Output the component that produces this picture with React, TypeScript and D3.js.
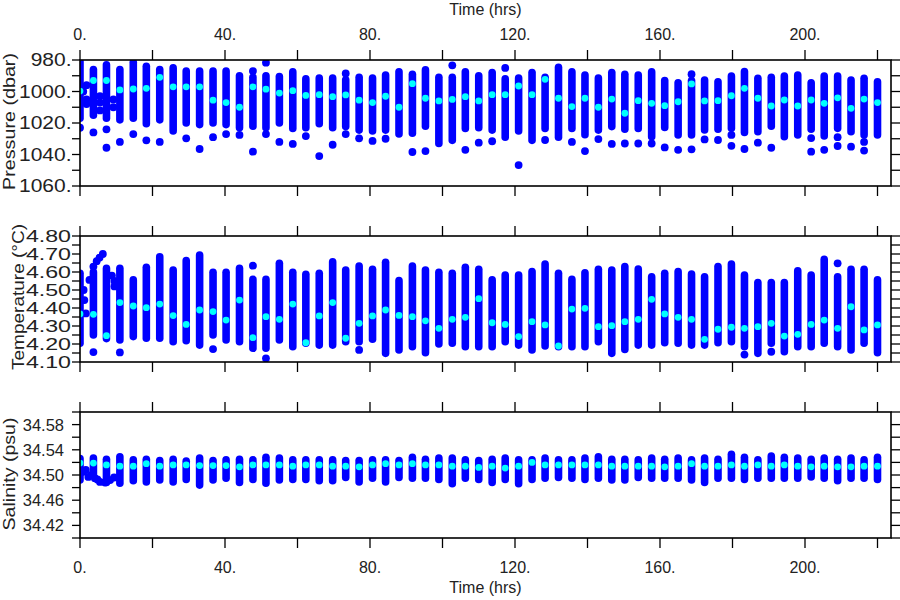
import React from "react";
import * as d3 from "d3";

// ---------- DATA ----------
const timeHrs = [0, 3.7, 7.3, 11.0, 14.7, 18.3, 22.0, 25.7, 29.3, 33.0, 36.7, 40.3, 44.0, 47.7, 51.3, 55.0, 58.7, 62.3, 66.0, 69.7, 73.3, 77.0, 80.7, 84.3, 88.0, 91.7, 95.3, 99.0, 102.7, 106.3, 110.0, 113.7, 117.3, 121.0, 124.7, 128.3, 132.0, 135.7, 139.3, 143.0, 146.7, 150.3, 154.0, 157.7, 161.3, 165.0, 168.7, 172.3, 176.0, 179.7, 183.3, 187.0, 190.7, 194.3, 198.0, 201.7, 205.3, 209.0, 212.7, 216.3, 220.0];

// Pressure (dbar): shallowest, deepest of the continuous profile, and highlighted (cyan) value
const presTop = [981, 986, 983, 986, 981.5, 984, 986, 985, 987, 987, 987, 987, 990, 991, 990, 990.5, 987.5, 992, 991.5, 991.5, 992.5, 991, 991.5, 989.5, 987.5, 989, 986.3, 991, 991, 987.5, 990, 988, 992, 991.5, 988, 991, 984.7, 987.5, 989.5, 991.5, 988, 989, 989.5, 987.5, 993, 994.4, 993, 992.7, 993.8, 990.2, 987.4, 991.6, 991, 990.2, 989.5, 994.4, 990.2, 990.2, 992.7, 991.6, 993.8];
const presBottom = [1017, 1015, 1017, 1018, 1017, 1020.5, 1018, 1025, 1020, 1021, 1020, 1021, 1023, 1022, 1023, 1020, 1023.5, 1023, 1020.5, 1023, 1022.3, 1024.5, 1025, 1024.5, 1027, 1026.5, 1022, 1033, 1031, 1023.5, 1023, 1024.5, 1029, 1025, 1031, 1023.5, 1029, 1023.5, 1027.5, 1024.5, 1022.3, 1024, 1023.5, 1028.7, 1022.8, 1027.6, 1027.6, 1024.4, 1024, 1023.4, 1026, 1025.5, 1022, 1028.7, 1027.6, 1024, 1028.3, 1023.4, 1025.5, 1027.6, 1027.6];
const presMean = [999.7, 993, 993, 999, 998.4, 998, 991, 997, 997, 997, 1005.5, 1007, 1010, 997, 998.5, 1001, 999.5, 1002.5, 1002, 1003.3, 1002.2, 1005.5, 1007, 1003, 1010, 995, 1004.3, 1006, 1005, 1003.3, 1006, 1002, 1002, 996.5, 1002, 992.3, 1004.3, 1009.6, 1004.3, 1010, 1004.8, 1013.8, 1005.8, 1007.5, 1009, 1006.5, 995.2, 1006, 1005.8, 1002.7, 998, 1004.3, 1009.2, 1005.4, 1009.2, 1005.4, 1007.5, 1004, 1010.7, 1004.8, 1007];
const presExtraT = [0, 3.7, 7.3, 7.3, 11.0, 14.7, 18.3, 22.0, 29.3, 33.0, 36.7, 40.3, 44.0, 47.7, 47.7, 51.3, 51.3, 55.0, 58.7, 62.3, 66.0, 69.7, 73.3, 73.3, 77.0, 80.7, 84.3, 91.7, 95.3, 102.7, 106.3, 110.0, 113.7, 117.3, 121.0, 128.3, 135.7, 139.3, 143.0, 146.7, 150.3, 154.0, 157.7, 161.3, 165.0, 168.7, 168.7, 172.3, 176.0, 179.7, 179.7, 183.3, 187.0, 190.7, 201.7, 201.7, 205.3, 209.0, 209.0, 212.7, 216.3, 216.3,
  0.9, 1.8, 1.8, 1.8, 5.5, 5.5, 5.5, 9.2, 9.2];
const presExtraV = [1023, 1026, 1024, 1035.7, 1032, 1027, 1031, 1032, 1029.7, 1036.5, 1029, 1027, 1027.6, 987, 1038.2, 981.7, 1027, 1032, 1033.3, 1028.3, 1041, 1033.8, 988.5, 1027, 1029.7, 1031.4, 1030, 1038.4, 1037.8, 983.4, 1037, 1032.5, 1031.6, 985, 1046.7, 1030.8, 1032, 1037.8, 1030.2, 1033.3, 1033, 1033, 1033, 1035.5, 1037, 989, 1036.7, 1030.4, 1030.8, 1027.6, 1034.5, 1036.5, 1032.5, 1035.7, 1029.6, 1038.2, 1037, 1029, 1034.6, 1035, 1032, 1037.5,
  1000, 996, 1005, 1008, 1003, 1007, 1012, 1005, 1010];

// Temperature (°C)
const tempTop = [4.593, 4.6, 4.62, 4.62, 4.556, 4.626, 4.685, 4.611, 4.663, 4.694, 4.598, 4.598, 4.62, 4.559, 4.559, 4.648, 4.598, 4.587, 4.593, 4.657, 4.611, 4.633, 4.615, 4.654, 4.552, 4.633, 4.611, 4.598, 4.593, 4.626, 4.615, 4.556, 4.583, 4.583, 4.602, 4.644, 4.593, 4.559, 4.596, 4.615, 4.611, 4.63, 4.617, 4.574, 4.593, 4.602, 4.589, 4.574, 4.63, 4.644, 4.583, 4.541, 4.541, 4.541, 4.606, 4.583, 4.67, 4.574, 4.615, 4.615, 4.556];
const tempBottom = [4.204, 4.25, 4.23, 4.222, 4.241, 4.232, 4.232, 4.213, 4.218, 4.194, 4.25, 4.222, 4.213, 4.176, 4.176, 4.222, 4.185, 4.204, 4.194, 4.194, 4.213, 4.213, 4.226, 4.148, 4.167, 4.185, 4.152, 4.2, 4.204, 4.185, 4.185, 4.185, 4.213, 4.194, 4.167, 4.189, 4.185, 4.185, 4.185, 4.213, 4.148, 4.17, 4.194, 4.194, 4.207, 4.204, 4.194, 4.194, 4.207, 4.213, 4.185, 4.148, 4.204, 4.157, 4.185, 4.185, 4.204, 4.185, 4.167, 4.204, 4.152];
const tempMean = [4.367, 4.365, 4.246, 4.43, 4.411, 4.402, 4.422, 4.358, 4.309, 4.389, 4.38, 4.333, 4.444, 4.235, 4.352, 4.337, 4.422, 4.207, 4.356, 4.43, 4.232, 4.315, 4.356, 4.389, 4.359, 4.352, 4.329, 4.287, 4.337, 4.348, 4.452, 4.318, 4.309, 4.241, 4.324, 4.306, 4.189, 4.394, 4.398, 4.296, 4.302, 4.324, 4.337, 4.448, 4.367, 4.348, 4.337, 4.226, 4.282, 4.293, 4.287, 4.296, 4.315, 4.244, 4.254, 4.309, 4.333, 4.287, 4.407, 4.278, 4.306];
const tempExtraT = [3.7, 11.0, 36.7, 47.7, 51.3, 77.0, 183.3, 190.7, 209.0,
  3.7, 4.6, 5.4, 6.3, 8.8, 9.5, 9.5, 1.0, 1.2, 1.6, 2.6];
const tempExtraV = [4.155, 4.153, 4.172, 4.635, 4.12, 4.167, 4.141, 4.157, 4.648,
  4.63, 4.66, 4.68, 4.70, 4.58, 4.55, 4.52, 4.50, 4.444, 4.37, 4.556];

// Salinity (psu)
const salTop = [34.526, 34.527, 34.525, 34.529, 34.524, 34.525, 34.523, 34.525, 34.522, 34.527, 34.523, 34.524, 34.525, 34.524, 34.528, 34.527, 34.524, 34.524, 34.524, 34.524, 34.523, 34.523, 34.524, 34.524, 34.523, 34.528, 34.525, 34.527, 34.527, 34.524, 34.523, 34.525, 34.527, 34.524, 34.524, 34.527, 34.524, 34.524, 34.527, 34.529, 34.525, 34.525, 34.524, 34.527, 34.525, 34.527, 34.524, 34.527, 34.525, 34.533, 34.528, 34.524, 34.530, 34.528, 34.527, 34.525, 34.527, 34.525, 34.527, 34.524, 34.528];
const salBottom = [34.492, 34.500, 34.488, 34.487, 34.491, 34.489, 34.492, 34.489, 34.493, 34.484, 34.492, 34.495, 34.488, 34.493, 34.487, 34.492, 34.493, 34.493, 34.491, 34.491, 34.496, 34.489, 34.495, 34.489, 34.496, 34.495, 34.495, 34.493, 34.486, 34.495, 34.493, 34.488, 34.493, 34.486, 34.493, 34.495, 34.496, 34.495, 34.493, 34.495, 34.492, 34.492, 34.496, 34.495, 34.495, 34.495, 34.492, 34.488, 34.495, 34.495, 34.493, 34.495, 34.495, 34.495, 34.495, 34.497, 34.495, 34.491, 34.495, 34.495, 34.493];
const salMean = [34.519, 34.519, 34.516, 34.514, 34.514, 34.518, 34.514, 34.516, 34.516, 34.515, 34.515, 34.515, 34.513, 34.516, 34.516, 34.516, 34.514, 34.516, 34.516, 34.514, 34.514, 34.513, 34.516, 34.518, 34.516, 34.518, 34.516, 34.516, 34.514, 34.514, 34.512, 34.514, 34.511, 34.514, 34.520, 34.516, 34.516, 34.516, 34.516, 34.516, 34.514, 34.514, 34.514, 34.514, 34.513, 34.514, 34.518, 34.514, 34.514, 34.516, 34.514, 34.516, 34.514, 34.516, 34.514, 34.513, 34.514, 34.513, 34.513, 34.514, 34.514];
const salExtraT = [0.9, 2.3, 4.1, 5.5, 6.9, 8.3, 9.4, 1.6, 3.2, 4.8];
const salExtraV = [34.505, 34.497, 34.495, 34.489, 34.488, 34.492, 34.496, 34.508, 34.500, 34.493];

// Axis ticks / labels
const timeTicks = [0, 20, 40, 60, 80, 100, 120, 140, 160, 180, 200, 220];
const timeLabels = [0, 40, 80, 120, 160, 200];
const presLabels = [980, 1000, 1020, 1040, 1060];
const presMinor = [990, 1010, 1030, 1050];
const tempLabels = [4.1, 4.2, 4.3, 4.4, 4.5, 4.6, 4.7, 4.8];
const tempMinor = [4.15, 4.25, 4.35, 4.45, 4.55, 4.65, 4.75];
const salLabels = [34.42, 34.46, 34.5, 34.54, 34.58];
const salMinor = [34.4, 34.44, 34.48, 34.52, 34.56, 34.6];

// ---------- STYLE ----------
const BLUE = "#0000ff";
const CYAN = "#00ffff";
const FONT = "'Liberation Sans', Arial, sans-serif";
const TXT = "#222";
const L = 80, R = 891;

type PanelProps = {
  id: string;
  top: number;
  bottom: number;
  domain: [number, number];
  tops: number[];
  bottoms: number[];
  means: number[];
  exT: number[];
  exV: number[];
  labels: number[];
  minor: number[];
  fmt: (v: number) => string;
  labelEnd: number;
  labelSize: number;
  labelScale: number;
  title: string;
  titleX: number;
  titleY: number;
  titleScale: number;
};

const x = d3.scaleLinear().domain([0, (R - L) / 3.625]).range([L, R]);

function Panel(p: PanelProps) {
  const y = d3.scaleLinear().domain(p.domain).range([p.top, p.bottom]);
  const allTicks = [...p.labels, ...p.minor];
  return (
    <g>
      <defs>
        <clipPath id={p.id}>
          <rect x={L} y={p.top} width={R - L} height={p.bottom - p.top} />
        </clipPath>
      </defs>
      <g clipPath={`url(#${p.id})`}>
        {timeHrs.map((t, i) => (
          <line key={"b" + i} x1={x(t)} x2={x(t)} y1={y(p.tops[i])} y2={y(p.bottoms[i])}
            stroke={BLUE} strokeWidth={7.6} strokeLinecap="round" />
        ))}
        {p.exT.map((t, i) => (
          <circle key={"e" + i} cx={x(t)} cy={y(p.exV[i])} r={3.9} fill={BLUE} />
        ))}
        {timeHrs.map((t, i) => (
          <circle key={"m" + i} cx={x(t)} cy={y(p.means[i])} r={3.4} fill={CYAN} />
        ))}
      </g>
      <rect x={L} y={p.top} width={R - L} height={p.bottom - p.top} fill="none" stroke="#000" strokeWidth={1.6} />
      {timeTicks.map((t) => (
        <g key={"xt" + t}>
          <line x1={x(t)} x2={x(t)} y1={p.top} y2={p.top - 10} stroke="#000" strokeWidth={1.3} />
          <line x1={x(t)} x2={x(t)} y1={p.bottom} y2={p.bottom + 10} stroke="#000" strokeWidth={1.3} />
        </g>
      ))}
      {allTicks.map((v) => (
        <g key={"yt" + v}>
          <line x1={L - 8} x2={L} y1={y(v)} y2={y(v)} stroke="#000" strokeWidth={1.3} />
          <line x1={R} x2={R + 9} y1={y(v)} y2={y(v)} stroke="#000" strokeWidth={1.3} />
        </g>
      ))}
      {p.labels.map((v) => (
        <text key={"yl" + v} transform={`translate(${p.labelEnd},${y(v)}) scale(${p.labelScale},1)`} dy="0.36em"
          textAnchor="end" fontSize={p.labelSize} fontFamily={FONT} fill={TXT}>
          {p.fmt(v)}
        </text>
      ))}
      <text transform={`translate(${p.titleX},${p.titleY}) rotate(-90) scale(${p.titleScale},1)`} textAnchor="middle"
        fontSize={17} fontFamily={FONT} fill={TXT}>
        {p.title}
      </text>
    </g>
  );
}

export default function App() {
  return (
    <svg width={900} height={600} style={{ position: "absolute", left: 0, top: 0, background: "#fff" }}>
      <rect width={900} height={600} fill="#fff" />
      <Panel id="cp" top={60} bottom={186} domain={[980, 1060]} tops={presTop} bottoms={presBottom} means={presMean}
        exT={presExtraT} exV={presExtraV} labels={presLabels} minor={presMinor} fmt={(v) => `${v}.`}
        labelEnd={71.5} labelSize={17.5} labelScale={1.2}
        title={"Pressure  (dbar)"} titleX={15} titleY={121.5} titleScale={1.16} />
      <Panel id="ct" top={236} bottom={362} domain={[4.8, 4.1]} tops={tempTop} bottoms={tempBottom} means={tempMean}
        exT={tempExtraT} exV={tempExtraV} labels={tempLabels} minor={tempMinor} fmt={(v) => v.toFixed(2)}
        labelEnd={71} labelSize={16} labelScale={1.45}
        title={"Temperature  (°C)"} titleX={24} titleY={297} titleScale={1.12} />
      <Panel id="cs" top={412} bottom={538} domain={[34.6, 34.4]} tops={salTop} bottoms={salBottom} means={salMean}
        exT={salExtraT} exV={salExtraV} labels={salLabels} minor={salMinor} fmt={(v) => v.toFixed(2)}
        labelEnd={64} labelSize={16.5} labelScale={1.0}
        title={"Salinity  (psu)"} titleX={15} titleY={474} titleScale={1.15} />
      {timeLabels.map((t) => (
        <g key={"tl" + t}>
          <text x={x(t)} y={40} textAnchor="middle" fontSize={16} fontFamily={FONT} fill={TXT}>{`${t}.`}</text>
          <text x={x(t)} y={573} textAnchor="middle" fontSize={16} fontFamily={FONT} fill={TXT}>{`${t}.`}</text>
        </g>
      ))}
      <text x={(L + R) / 2} y={15} textAnchor="middle" fontSize={16} fontFamily={FONT} fill={TXT}>Time (hrs)</text>
      <text x={(L + R) / 2} y={593} textAnchor="middle" fontSize={16} fontFamily={FONT} fill={TXT}>Time (hrs)</text>
    </svg>
  );
}
